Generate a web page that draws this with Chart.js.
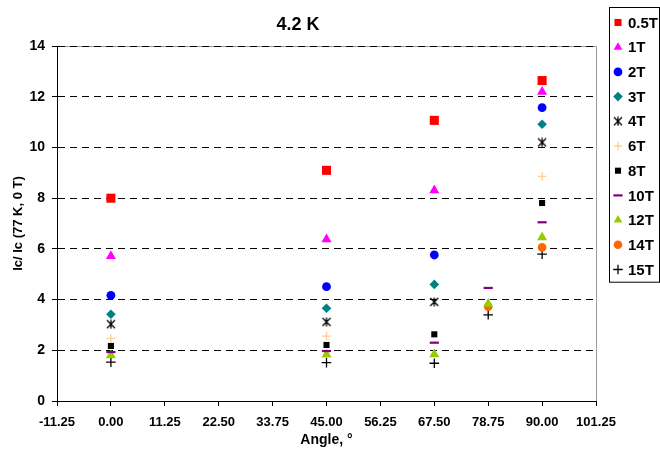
<!DOCTYPE html>
<html>
<head>
<meta charset="utf-8">
<script src="https://cdn.jsdelivr.net/npm/chart.js@4.4.1/dist/chart.umd.min.js"></script>
<style>
  body { margin: 0; background: #fff; }
  #wrap { width: 660px; height: 455px; }
</style>
</head>
<body>
<div id="wrap"><canvas id="chart" width="660" height="455"></canvas></div>
<script>
// angles measured (deg)
const angles = [0, 45, 67.5, 78.75, 90];

// Ic/Ic(77K,0T) per field, null = not measured
const field05T = [8.0, 9.1, 11.07, null, 12.64];
const field1T  = [5.72, 6.38, 8.31, null, 12.2];
const field2T  = [4.17, 4.51, 5.76, null, 11.57];
const field3T  = [3.42, 3.66, 4.6, null, 10.92];
const field4T  = [3.03, 3.12, 3.91, null, 10.2];
const field6T  = [2.47, 2.56, null, null, 8.86];
const field8T  = [2.17, 2.21, 2.63, null, 7.81];
const field10T = [1.93, 1.97, 2.3, 4.46, 7.05];
const field12T = [1.8, 1.83, 1.84, 3.83, 6.46];
const field14T = [null, null, null, 3.72, 6.06];
const field15T = [1.53, 1.51, 1.49, 3.4, 5.79];

const seriesNames = ['0.5T', '1T', '2T', '3T', '4T', '6T', '8T', '10T', '12T', '14T', '15T'];
const seriesValues = [field05T, field1T, field2T, field3T, field4T, field6T, field8T, field10T, field12T, field14T, field15T];

const xTicks = [-11.25, 0, 11.25, 22.5, 33.75, 45, 56.25, 67.5, 78.75, 90, 101.25];
const yTicks = [0, 2, 4, 6, 8, 10, 12, 14];

const FONT = 'Liberation Sans, Arial, sans-serif';

// X with a vertical bar, like the excel star marker
function makeStar(size, color) {
  const c = document.createElement('canvas');
  c.width = c.height = size;
  const g = c.getContext('2d');
  g.strokeStyle = color;
  g.lineWidth = 1.3;
  const m = size / 2, r = size / 2 - 1;
  g.beginPath();
  g.moveTo(m - r, m - r); g.lineTo(m + r, m + r);
  g.moveTo(m + r, m - r); g.lineTo(m - r, m + r);
  g.moveTo(m, 0.5); g.lineTo(m, size - 0.5);
  g.stroke();
  return c;
}

const markers = [
  { style: 'rect', r: 6.4, color: '#FF0000', bw: 0 },
  { style: 'triangle', r: 5.8, color: '#FF00FF', bw: 0 },
  { style: 'circle', r: 4.4, color: '#0000FF', bw: 0 },
  { style: 'rectRot', r: 4.8, color: '#008080', bw: 0 },
  { style: makeStar(10, '#000000'), r: 5, color: '#000000', bw: 0 },
  { style: 'cross', r: 4.3, color: '#FFCC99', bw: 1.3 },
  { style: 'rect', r: 4.3, color: '#000000', bw: 0 },
  { style: 'line', r: 4.6, color: '#800080', bw: 2.2 },
  { style: 'triangle', r: 5.8, color: '#99CC00', bw: 0 },
  { style: 'circle', r: 4.3, color: '#FF6600', bw: 0 },
  { style: 'cross', r: 4.8, color: '#000000', bw: 1.3 }
];

const datasets = seriesNames.map((name, i) => ({
  label: name,
  data: angles.map((a, j) => ({ x: a, y: seriesValues[i][j] })).filter(p => p.y !== null),
  pointStyle: markers[i].style,
  pointRadius: markers[i].r,
  pointBackgroundColor: markers[i].color,
  pointBorderColor: markers[i].color,
  pointBorderWidth: markers[i].bw,
  showLine: false
}));

// gray frame on top / right of the plot area, drawn under the grid
const plotFrame = {
  id: 'plotFrame',
  beforeDraw(chart) {
    const { ctx, chartArea: a } = chart;
    ctx.save();
    ctx.strokeStyle = '#9a9a9a';
    ctx.lineWidth = 1;
    ctx.beginPath();
    ctx.moveTo(Math.round(a.left) + 0.5, Math.round(a.top) + 0.5);
    ctx.lineTo(Math.round(a.right) + 0.5, Math.round(a.top) + 0.5);
    ctx.lineTo(Math.round(a.right) + 0.5, Math.round(a.bottom) + 0.5);
    ctx.stroke();
    ctx.restore();
  }
};

// boxed legend at the right edge
const boxLegend = {
  id: 'boxLegend',
  afterDraw(chart) {
    const ctx = chart.ctx;
    const x0 = Math.round(chart.chartArea.right) + 13;
    const y0 = 7;
    const rowH = 24.7;
    const h = rowH * chart.data.datasets.length + 3;
    ctx.save();
    ctx.strokeStyle = '#000';
    ctx.lineWidth = 1;
    ctx.strokeRect(x0 + 0.5, y0 + 0.5, 50, h);
    ctx.font = 'bold 15px ' + FONT;
    ctx.textBaseline = 'middle';
    ctx.textAlign = 'left';
    chart.data.datasets.forEach((ds, i) => {
      const cy = y0 + 15.5 + i * rowH;
      ctx.fillStyle = ds.pointBackgroundColor;
      ctx.strokeStyle = ds.pointBorderColor;
      ctx.lineWidth = ds.pointBorderWidth;
      Chart.helpers.drawPoint(ctx, {
        pointStyle: ds.pointStyle,
        radius: Math.min(ds.pointRadius, 5),
        rotation: 0,
        borderWidth: ds.pointBorderWidth
      }, x0 + 9, cy);
      ctx.fillStyle = '#000';
      ctx.fillText(ds.label, x0 + 19, cy + 1);
    });
    ctx.restore();
  }
};

new Chart(document.getElementById('chart'), {
  type: 'scatter',
  data: { datasets },
  plugins: [plotFrame, boxLegend],
  options: {
    responsive: false,
    animation: false,
    events: [],
    layout: { padding: { left: 0, right: 64, top: 0, bottom: 0 } },
    plugins: {
      legend: { display: false },
      tooltip: { enabled: false },
      title: {
        display: true,
        text: '4.2 K',
        color: '#000',
        font: { family: FONT, size: 18, weight: 'bold' },
        padding: { top: 14, bottom: 10.5 }
      }
    },
    scales: {
      x: {
        type: 'linear',
        min: -11.25,
        max: 101.25,
        afterBuildTicks: s => { s.ticks = xTicks.map(v => ({ value: v })); },
        afterFit: s => { s.height = 54; },
        grid: { drawOnChartArea: false, drawTicks: true, tickLength: 5, color: '#000' },
        border: { color: '#000', width: 1 },
        ticks: {
          color: '#000',
          padding: 9,
          maxRotation: 0,
          autoSkip: false,
          font: { family: FONT, size: 13, weight: 'bold' },
          callback: v => Number(v).toFixed(2)
        },
        title: {
          display: true,
          text: 'Angle, \u00b0',
          color: '#000',
          font: { family: FONT, size: 14, weight: 'bold' },
          padding: { top: 0, bottom: 6 }
        }
      },
      y: {
        type: 'linear',
        min: 0,
        max: 14,
        afterBuildTicks: s => { s.ticks = yTicks.map(v => ({ value: v })); },
        afterFit: s => { s.width = 57; },
        grid: { color: '#000', lineWidth: 1, tickLength: 5, tickColor: '#000' },
        border: { color: '#000', width: 1, dash: [7, 5] },
        ticks: {
          color: '#000',
          padding: 7,
          font: { family: FONT, size: 14, weight: 'bold' }
        },
        title: {
          display: true,
          text: 'Ic/ Ic (77 K, 0 T)',
          color: '#000',
          font: { family: FONT, size: 13, weight: 'bold' },
          padding: { top: 11, bottom: 0 }
        }
      }
    }
  }
});
</script>
</body>
</html>
